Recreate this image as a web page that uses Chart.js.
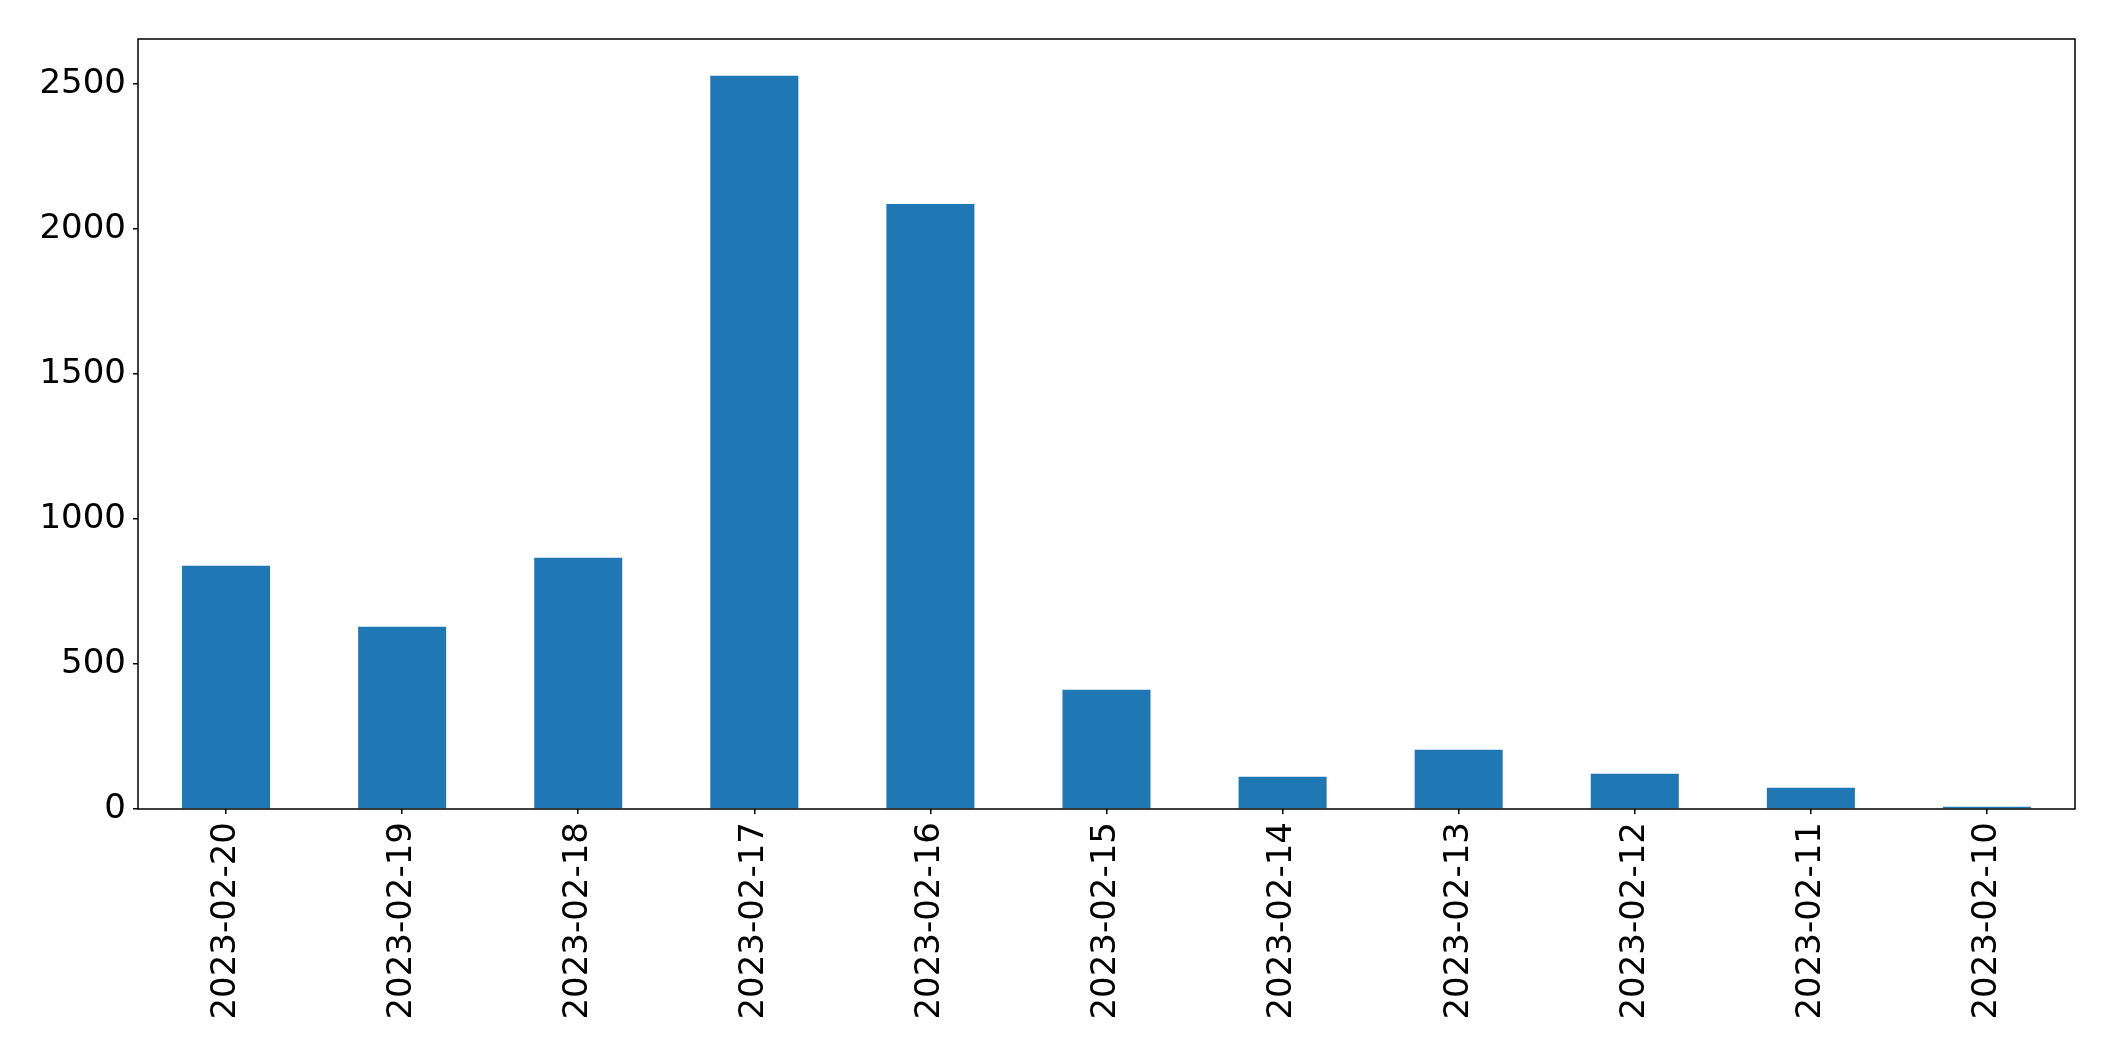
<!DOCTYPE html>
<html>
<head>
<meta charset="utf-8">
<script src="https://cdn.jsdelivr.net/npm/chart.js@4.4.0/dist/chart.umd.min.js"></script>
<style>
  html, body { margin: 0; padding: 0; background: #fff; }
  #wrap { width: 2115px; height: 1061px; }
</style>
</head>
<body>
<div id="wrap"><canvas id="myChart"></canvas></div>
<script>
var dates = ["2023-02-20", "2023-02-19", "2023-02-18", "2023-02-17", "2023-02-16",
             "2023-02-15", "2023-02-14", "2023-02-13", "2023-02-12", "2023-02-11", "2023-02-10"];
var counts = [839, 629, 867, 2529, 2087, 411, 111, 204, 122, 73, 8];
var yTicks = [0, 500, 1000, 1500, 2000, 2500];

// matplotlib style box around the plot
var frame = {
  id: 'frame',
  afterDraw: function(chart) {
    var a = chart.chartArea;
    var ctx = chart.ctx;
    ctx.save();
    ctx.strokeStyle = '#000';
    ctx.lineWidth = 1.5;
    ctx.strokeRect(a.left, a.top, a.right - a.left, a.bottom - a.top);
    ctx.restore();
  }
};

Chart.defaults.font.family = "'DejaVu Sans', sans-serif";
Chart.defaults.font.size = 34;
Chart.defaults.color = '#000';

var ctx = document.getElementById("myChart").getContext("2d");
var myChart = new Chart(ctx, {
  type: 'bar',
  data: {
    labels: dates,
    datasets: [{
      data: counts,
      backgroundColor: '#1f77b4',
      barPercentage: 0.5,
      categoryPercentage: 1.0
    }]
  },
  options: {
    responsive: true,
    maintainAspectRatio: false,
    animation: false,
    layout: { padding: { top: 39, right: 40, left: 0, bottom: 0 } },
    plugins: { legend: { display: false }, tooltip: { enabled: false } },
    scales: {
      x: {
        grid: { offset: false, drawOnChartArea: false, tickLength: 5, color: '#000', lineWidth: 1.5 },
        border: { display: false },
        ticks: { maxRotation: 90, minRotation: 90, padding: 8, autoSkip: false },
        afterFit: function(s) { s.height = 252; }
      },
      y: {
        min: 0,
        max: 2656,
        afterBuildTicks: function(s) {
          s.ticks = yTicks.map(function(v) { return { value: v }; });
        },
        grid: { drawOnChartArea: false, tickLength: 5, color: '#000', lineWidth: 1.5 },
        border: { display: false },
        ticks: { padding: 7, callback: function(v) { return String(v); } },
        afterFit: function(s) { s.width = 138; }
      }
    }
  },
  plugins: [frame]
});
</script>
</body>
</html>
